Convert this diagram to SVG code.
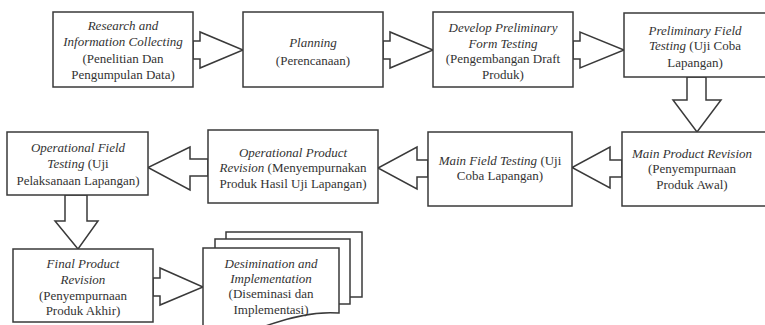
<svg xmlns="http://www.w3.org/2000/svg" width="765" height="325" viewBox="0 0 765 325">
<style>
.box{fill:#fff;stroke:#3a3a3a;stroke-width:1.5}
.arr{fill:#fff;stroke:#3a3a3a;stroke-width:1.5;stroke-linejoin:miter}
text{font-family:'Liberation Serif','Times New Roman',serif;font-size:13px;fill:#333;text-anchor:middle}
.i{font-style:italic}
</style>
<rect width="765" height="325" fill="#fff"/>
<g id="connectors">
<polygon class="arr" points="193,41 200,41 200,32 243,50 200,68 200,59 193,59"/>
<polygon class="arr" points="383,41 390,41 390,32 433,50 390,68 390,59 383,59"/>
<polygon class="arr" points="573,41 580,41 580,32 624,50 580,68 580,59 573,59"/>
<polygon class="arr" points="687,77 687,100 673,100 697,132 721,100 706,100 706,77"/>
<polygon class="arr" points="622,160 610,160 610,147 572,167.5 610,188 610,177 622,177"/>
<polygon class="arr" points="428,160 417,160 417,147 378,168 417,189 417,177 428,177"/>
<polygon class="arr" points="208,159 190,159 190,147 148,167.5 190,190 190,176 208,176"/>
<polygon class="arr" points="65,195 65,221 55,221 78,249 98,221 87,221 87,195"/>
<polygon class="arr" points="153,278 160,278 160,268 203,287 160,305 160,296 153,296"/>
</g>
<g id="n1">
<rect class="box" x="53" y="12" width="140" height="75"/>
<text x="123" y="29.5" class="i">Research and</text>
<text x="123" y="46" class="i">Information Collecting</text>
<text x="123" y="62.5">(Penelitian Dan</text>
<text x="123" y="79">Pengumpulan Data)</text>
</g>
<g id="n2">
<rect class="box" x="243" y="12" width="140" height="75"/>
<text x="313" y="47" class="i">Planning</text>
<text x="313" y="64.5">(Perencanaan)</text>
</g>
<g id="n3">
<rect class="box" x="433" y="12" width="140" height="75"/>
<text x="503" y="32" class="i">Develop Preliminary</text>
<text x="503" y="47.5" class="i">Form Testing</text>
<text x="503" y="63">(Pengembangan Draft</text>
<text x="503" y="78.5">Produk)</text>
</g>
<g id="n4">
<rect class="box" x="624" y="13" width="142" height="64"/>
<text x="695" y="34.5" class="i">Preliminary Field</text>
<text x="695" y="50"><tspan class="i">Testing</tspan> (Uji Coba</text>
<text x="695" y="66.5">Lapangan)</text>
</g>
<g id="n5">
<rect class="box" x="622" y="132" width="144" height="74"/>
<text x="692" y="157.5" class="i">Main Product Revision</text>
<text x="692" y="172.5">(Penyempurnaan</text>
<text x="692" y="188.5">Produk Awal)</text>
</g>
<g id="n6">
<rect class="box" x="428" y="132" width="144" height="74"/>
<text x="500" y="164.5"><tspan class="i">Main Field Testing</tspan> (Uji</text>
<text x="500" y="179.5">Coba Lapangan)</text>
</g>
<g id="n7">
<rect class="box" x="208" y="130" width="170" height="73"/>
<text x="293" y="156.5" class="i">Operational Product</text>
<text x="293" y="171.5"><tspan class="i">Revision</tspan> (Menyempurnakan</text>
<text x="293" y="187.5">Produk Hasil Uji Lapangan)</text>
</g>
<g id="n8">
<rect class="box" x="7" y="132" width="141" height="63"/>
<text x="78" y="151.5" class="i">Operational Field</text>
<text x="78" y="167.5"><tspan class="i">Testing</tspan> (Uji</text>
<text x="78" y="184.5">Pelaksanaan Lapangan)</text>
</g>
<g id="n9">
<rect class="box" x="13" y="249" width="140" height="73"/>
<text x="83" y="267.5" class="i">Final Product</text>
<text x="83" y="284" class="i">Revision</text>
<text x="83" y="299.5">(Penyempurnaan</text>
<text x="83" y="314.5">Produk Akhir)</text>
</g>
<g id="n10">
<rect class="box" x="226" y="232" width="136" height="65"/>
<rect class="box" x="215" y="239" width="135" height="65"/>
<path class="box" d="M203,340 V248 H339 V313 C315,311 285,318 255,330 L255,340 Z"/>
<text x="271" y="267.5" class="i">Desimination and</text>
<text x="271" y="282.5" class="i">Implementation</text>
<text x="271" y="297.5">(Diseminasi dan</text>
<text x="271" y="313.5">Implementasi)</text>
</g>
</svg>
